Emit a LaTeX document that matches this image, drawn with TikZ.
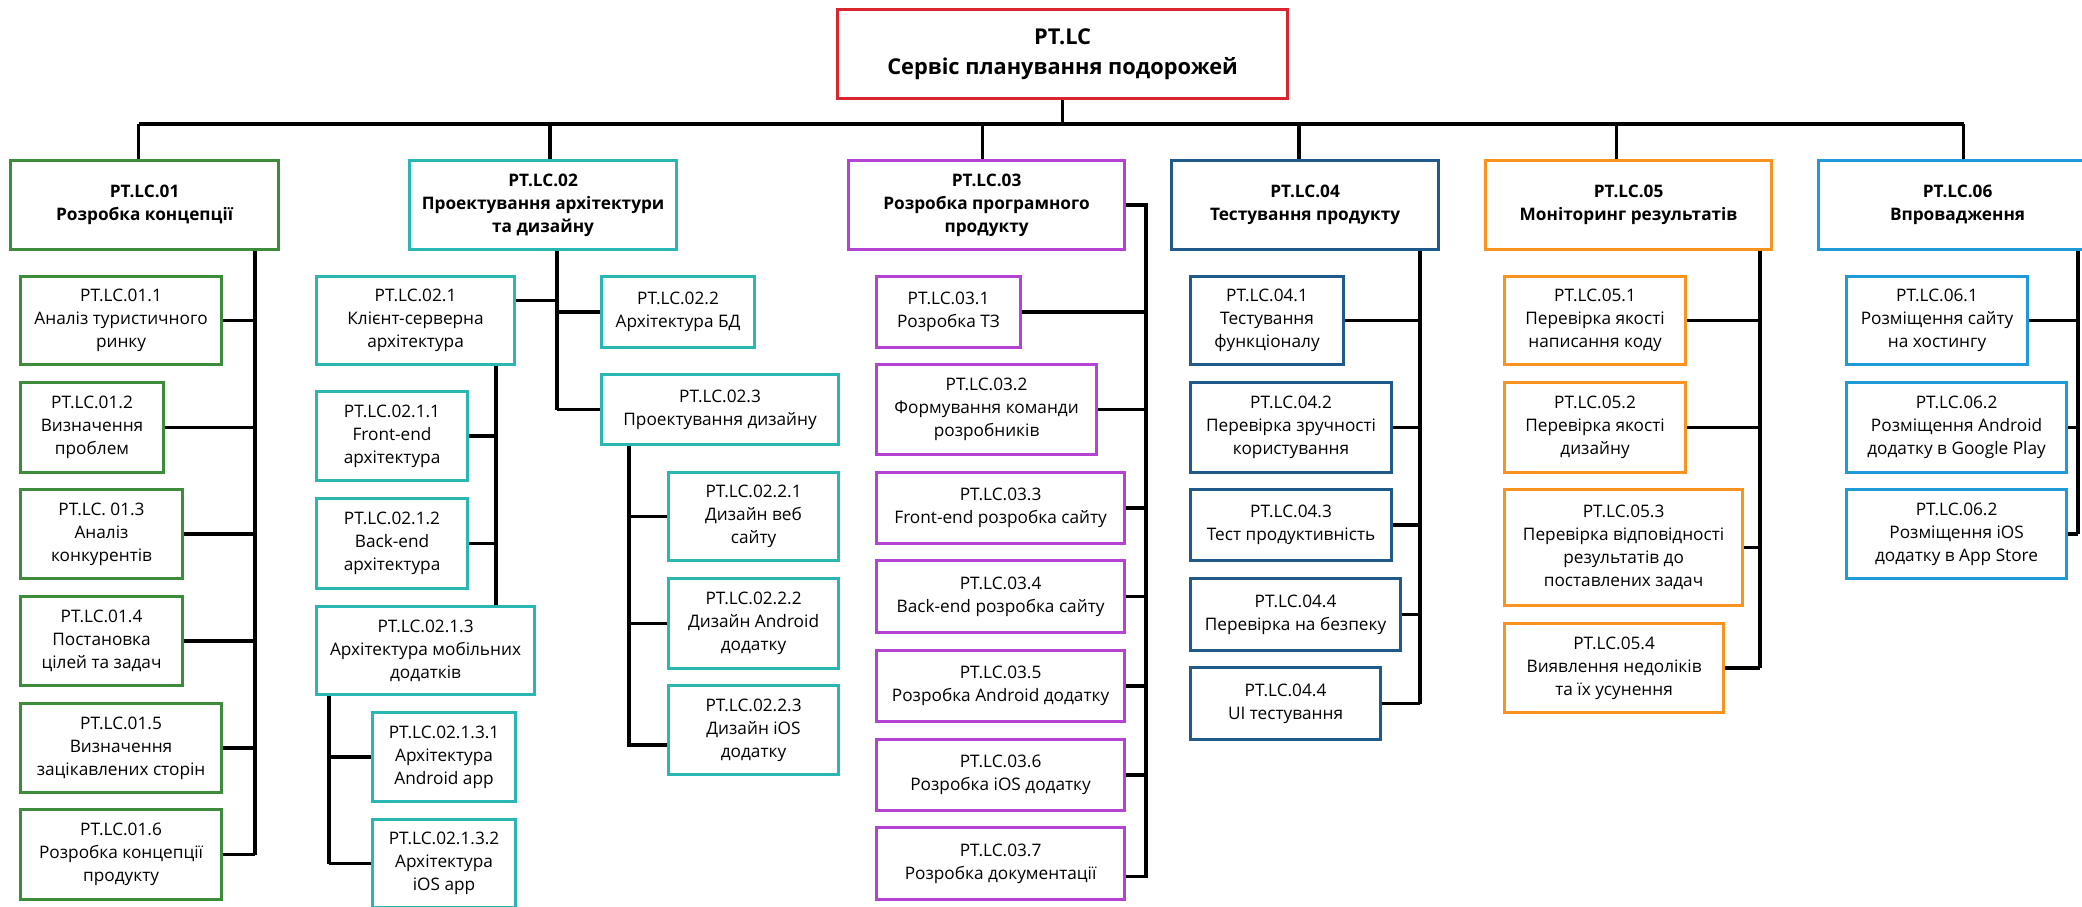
\documentclass[tikz,border=0pt]{standalone}
\usepackage{fontspec}
\setmainfont{Open Sans}
\usepackage{tikz}

\definecolor{rootred}{RGB}{217,38,46}
\definecolor{grn}{RGB}{60,140,60}
\definecolor{teal}{RGB}{42,183,180}
\definecolor{purp}{RGB}{180,67,212}
\definecolor{navy}{RGB}{31,90,138}
\definecolor{orng}{RGB}{247,147,30}
\definecolor{sky}{RGB}{30,154,214}

\begin{document}
\begin{tikzpicture}[x=0.01cm, y=-0.01cm,
  box/.style={draw, line width=0.85pt, align=center, inner sep=0pt, anchor=north west},
  root/.style={box, draw=rootred, font=\bfseries\fontsize{6.2}{8.5}\selectfont},
  lvl/.style={box, font=\bfseries\fontsize{4.9}{6.5}\selectfont},
  sub/.style={box, font=\fontsize{4.9}{6.5}\selectfont},
  link/.style={line width=1.05pt, black}]
\useasboundingbox (0,0) rectangle (2082,907);
\clip (0,0) rectangle (2082,907);

% root
\node[root, minimum width=4.50cm, minimum height=0.89cm] (root) at (836,8) {PT.LC\\Сервіс планування подорожей};

% level 1
\node[lvl, draw=grn, minimum width=2.68cm, minimum height=0.89cm] (n01) at (9,159) {PT.LC.01\\Розробка концепції};
\node[lvl, draw=teal, minimum width=2.67cm, minimum height=0.89cm] (n02) at (408,159) {PT.LC.02\\Проектування архітектури\\та дизайну};
\node[lvl, draw=purp, minimum width=2.76cm, minimum height=0.89cm] (n03) at (847,159) {PT.LC.03\\Розробка програмного\\продукту};
\node[lvl, draw=navy, minimum width=2.67cm, minimum height=0.89cm] (n04) at (1170,159) {PT.LC.04\\Тестування продукту};
\node[lvl, draw=orng, minimum width=2.86cm, minimum height=0.89cm] (n05) at (1484,159) {PT.LC.05\\Моніторинг результатів};
\node[lvl, draw=sky, minimum width=2.78cm, minimum height=0.89cm] (n06) at (1817,159) {PT.LC.06\\Впровадження};

% 01
\node[sub, draw=grn, minimum width=2.01cm, minimum height=0.88cm] (n011) at (19,275) {PT.LC.01.1\\Аналіз туристичного\\ринку};
\node[sub, draw=grn, minimum width=1.43cm, minimum height=0.90cm] (n012) at (19,381) {PT.LC.01.2\\Визначення\\проблем};
\node[sub, draw=grn, minimum width=1.62cm, minimum height=0.89cm] (n013) at (19,488) {PT.LC. 01.3\\Аналіз\\конкурентів};
\node[sub, draw=grn, minimum width=1.62cm, minimum height=0.89cm] (n014) at (19,595) {PT.LC.01.4\\Постановка\\цілей та задач};
\node[sub, draw=grn, minimum width=2.01cm, minimum height=0.89cm] (n015) at (19,702) {PT.LC.01.5\\Визначення\\зацікавлених сторін};
\node[sub, draw=grn, minimum width=2.01cm, minimum height=0.90cm] (n016) at (19,808) {PT.LC.01.6\\Розробка концепції\\продукту};

% 02
\node[sub, draw=teal, minimum width=1.98cm, minimum height=0.88cm] (n021) at (315,275) {PT.LC.02.1\\Клієнт-серверна\\архітектура};
\node[sub, draw=teal, minimum width=1.53cm, minimum height=0.71cm] (n022) at (600,275) {PT.LC.02.2\\Архітектура БД};
\node[sub, draw=teal, minimum width=2.37cm, minimum height=0.70cm] (n023) at (600,373) {PT.LC.02.3\\Проектування дизайну};
\node[sub, draw=teal, minimum width=1.51cm, minimum height=0.89cm] (n0211) at (315,390) {PT.LC.02.1.1\\Front-end\\архітектура};
\node[sub, draw=teal, minimum width=1.51cm, minimum height=0.90cm] (n0212) at (315,497) {PT.LC.02.1.2\\Back-end\\архітектура};
\node[sub, draw=teal, minimum width=2.18cm, minimum height=0.88cm] (n0213) at (315,605) {PT.LC.02.1.3\\Архітектура мобільних\\додатків};
\node[sub, draw=teal, minimum width=1.43cm, minimum height=0.89cm] (n02131) at (371,711) {PT.LC.02.1.3.1\\Архітектура\\Android app};
\node[sub, draw=teal, minimum width=1.43cm, minimum height=0.88cm] (n02132) at (371,818) {PT.LC.02.1.3.2\\Архітектура\\iOS app};
\node[sub, draw=teal, minimum width=1.70cm, minimum height=0.88cm] (n0221) at (667,471) {PT.LC.02.2.1\\Дизайн веб\\сайту};
\node[sub, draw=teal, minimum width=1.70cm, minimum height=0.90cm] (n0222) at (667,577) {PT.LC.02.2.2\\Дизайн Android\\додатку};
\node[sub, draw=teal, minimum width=1.70cm, minimum height=0.89cm] (n0223) at (667,684) {PT.LC.02.2.3\\Дизайн iOS\\додатку};

% 03
\node[sub, draw=purp, minimum width=1.44cm, minimum height=0.71cm] (n031) at (875,275) {PT.LC.03.1\\Розробка ТЗ};
\node[sub, draw=purp, minimum width=2.20cm, minimum height=0.90cm] (n032) at (875,363) {PT.LC.03.2\\Формування команди\\розробників};
\node[sub, draw=purp, minimum width=2.48cm, minimum height=0.71cm] (n033) at (875,471) {PT.LC.03.3\\Front-end розробка сайту};
\node[sub, draw=purp, minimum width=2.48cm, minimum height=0.72cm] (n034) at (875,559) {PT.LC.03.4\\Back-end розробка сайту};
\node[sub, draw=purp, minimum width=2.48cm, minimum height=0.71cm] (n035) at (875,649) {PT.LC.03.5\\Розробка Android додатку};
\node[sub, draw=purp, minimum width=2.48cm, minimum height=0.71cm] (n036) at (875,738) {PT.LC.03.6\\Розробка iOS додатку};
\node[sub, draw=purp, minimum width=2.48cm, minimum height=0.72cm] (n037) at (875,826) {PT.LC.03.7\\Розробка документації};

% 04
\node[sub, draw=navy, minimum width=1.53cm, minimum height=0.88cm] (n041) at (1189,275) {PT.LC.04.1\\Тестування\\функціоналу};
\node[sub, draw=navy, minimum width=2.01cm, minimum height=0.90cm] (n042) at (1189,381) {PT.LC.04.2\\Перевірка зручності\\користування};
\node[sub, draw=navy, minimum width=2.01cm, minimum height=0.71cm] (n043) at (1189,488) {PT.LC.04.3\\Тест продуктивність};
\node[sub, draw=navy, minimum width=2.10cm, minimum height=0.72cm] (n044) at (1189,577) {PT.LC.04.4\\Перевірка на безпеку};
\node[sub, draw=navy, minimum width=1.90cm, minimum height=0.72cm] (n045) at (1189,666) {PT.LC.04.4\\UI тестування};

% 05
\node[sub, draw=orng, minimum width=1.81cm, minimum height=0.88cm] (n051) at (1503,275) {PT.LC.05.1\\Перевірка якості\\написання коду};
\node[sub, draw=orng, minimum width=1.81cm, minimum height=0.90cm] (n052) at (1503,381) {PT.LC.05.2\\Перевірка якості\\дизайну};
\node[sub, draw=orng, minimum width=2.38cm, minimum height=1.16cm] (n053) at (1503,488) {PT.LC.05.3\\Перевірка відповідності\\результатів до\\поставлених задач};
\node[sub, draw=orng, minimum width=2.19cm, minimum height=0.89cm] (n054) at (1503,622) {PT.LC.05.4\\Виявлення недоліків\\та їх усунення};

% 06
\node[sub, draw=sky, minimum width=1.81cm, minimum height=0.88cm] (n061) at (1845,275) {PT.LC.06.1\\Розміщення сайту\\на хостингу};
\node[sub, draw=sky, minimum width=2.20cm, minimum height=0.90cm] (n062) at (1845,381) {PT.LC.06.2\\Розміщення Android\\додатку в Google Play};
\node[sub, draw=sky, minimum width=2.20cm, minimum height=0.89cm] (n063) at (1845,488) {PT.LC.06.2\\Розміщення iOS\\додатку в App Store};

% spines
\coordinate (bus) at (0,124);
\coordinate (s01) at (255,0);
\coordinate (s02) at (557,0);
\coordinate (s021) at (496,0);
\coordinate (s0213) at (329,0);
\coordinate (s023) at (629,0);
\coordinate (s03) at (1146,0);
\coordinate (s04) at (1420,0);
\coordinate (s05) at (1760,0);
\coordinate (s06) at (2078,0);

% top level
\draw[link] (root.south) -- (root.south |- bus);
\draw[link] ([xshift=-0.06cm]n01.north |- bus) -- ([xshift=0.06cm]n06.north |- bus);
\foreach \n/\d in {n01/-0.06,n02/0.07,n03/-0.04,n04/-0.06,n05/-0.12,n06/0.06}
  \draw[link] ([xshift=\d cm]\n.north) -- ([xshift=\d cm]\n.north |- bus);

% 01
\draw[link] (s01 |- n01.south) -- (s01 |- n016.east);
\foreach \n in {n011,n012,n013,n014,n015,n016}
  \draw[link] (\n.east) -- (\n.east -| s01);

% 02
\draw[link] (s02 |- n02.south) -- (s02 |- n023.west);
\draw[link] ([yshift=0.2cm]n021.east) -- ([yshift=0.2cm]n021.east -| s02);
\draw[link] (s02 |- n022.west) -- (n022.west);
\draw[link] (s02 |- n023.west) -- (n023.west);
\draw[link] (s021 |- n021.south) -- (s021 |- n0213.north);
\draw[link] (n0211.east) -- (n0211.east -| s021);
\draw[link] (n0212.east) -- (n0212.east -| s021);
\draw[link] (s0213 |- n0213.south) -- (s0213 |- n02132.west);
\draw[link] (s0213 |- n02131.west) -- (n02131.west);
\draw[link] (s0213 |- n02132.west) -- (n02132.west);
\draw[link] (s023 |- n023.south) -- ([yshift=-0.15cm]n0223.west -| s023) -- ([yshift=-0.15cm]n0223.west);
\draw[link] (s023 |- n0221.west) -- (n0221.west);
\draw[link] (s023 |- n0222.west) -- (n0222.west);

% 03
\draw[link] (n03.east) -| ([yshift=-0.13cm]n037.east -| s03) -- ([yshift=-0.13cm]n037.east);
\foreach \n in {n031,n032,n033,n034,n035,n036}
  \draw[link] (\n.east) -- (\n.east -| s03);

% 04
\draw[link] (s04 |- n04.south) -- (s04 |- n045.east);
\foreach \n in {n041,n042,n043,n044,n045}
  \draw[link] (\n.east) -- (\n.east -| s04);

% 05
\draw[link] (s05 |- n05.south) -- (s05 |- n054.east);
\foreach \n in {n051,n052,n053,n054}
  \draw[link] (\n.east) -- (\n.east -| s05);

% 06
\draw[link] (s06 |- n06.south) -- (s06 |- n063.east);
\foreach \n in {n061,n062,n063}
  \draw[link] (\n.east) -- (\n.east -| s06);
\end{tikzpicture}
\end{document}
